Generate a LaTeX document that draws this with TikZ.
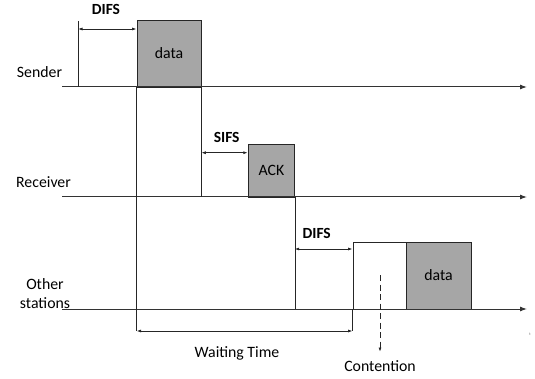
\documentclass[tikz,border=0pt]{standalone}
\usepackage{fontspec}
\setmainfont{Carlito}
\usetikzlibrary{arrows.meta}
\begin{document}
\begin{tikzpicture}[x=1pt,y=-1pt,
  every node/.style={font=\fontsize{15.8}{18}\selectfont},
  lbl/.style={inner sep=0pt},
  boldlbl/.style={inner sep=0pt, font=\fontsize{15.5}{18}\selectfont\bfseries},
  frame/.style={draw=black!85, line width=0.9pt, inner sep=0pt, fill=#1},
  frame/.default=white,
  axis/.style={draw=black!80, line width=1pt, -{Latex[length=7pt,width=5pt]}},
  edge/.style={draw=black!85, line width=0.9pt},
  span/.style={draw=black!85, line width=0.8pt, {Latex[length=4.5pt,width=3pt]}-{Latex[length=4.5pt,width=3pt]}},
  tick/.style={inner sep=0pt, font=\fontsize{4}{5}\selectfont, text=black!60}]
\useasboundingbox (0,0) rectangle (535,379);

% frames on the three time lines
\node[frame=black!35, minimum width=64pt, minimum height=67pt] (data1) at (169,53.5) {data};
\node[frame=black!35, minimum width=46.5pt, minimum height=53pt] (ack) at (271.5,170.5) {ACK};
\node[frame, minimum width=53pt, minimum height=67pt] (cont) at (379.5,275.5) {};
\node[frame=black!35, minimum width=65pt, minimum height=67pt] (data2) at (438.5,275.5) {data};

% time lines
\coordinate (s0) at (62,87);   \coordinate (s1) at (527,87);
\coordinate (r0) at (62,197);  \coordinate (r1) at (527,197);
\coordinate (o0) at (62,309);  \coordinate (o1) at (527,309);
\draw[axis] (s0) -- (s1);
\draw[axis] (r0) -- (r1);
\draw[axis] (o0) -- (o1);

% station labels
\node[lbl] (sender) at (39.5,72) {Sender};
\node[lbl] (receiver) at (43.5,182.5) {Receiver};
\node[lbl, align=center, font=\fontsize{15.8}{18.7}\selectfont] (others) at (45,293.5) {Other\\stations};

% vertical marks
\coordinate (difsA) at (78,21);
\coordinate (difsAb) at (78,87);
\draw[edge] (difsA) -- (difsAb);
\coordinate (waitL) at (data1.south west |- 0,331);
\coordinate (waitR) at (cont.south west |- 0,331);
\draw[edge] (data1.south west) -- (waitL);
\draw[edge] (data1.south east) -- (data1.south east |- r0);
\draw[edge] (ack.south east) -- (ack.south east |- o0);
\draw[edge] (cont.south west) -- (waitR);

% interval arrows
\coordinate (d1a) at (78,29);
\draw[span] (d1a) -- (d1a -| data1.west);
\coordinate (sa) at (201.3,152.7);
\draw[span] (sa) -- (sa -| ack.west);
\coordinate (d2a) at (294.7,249);
\draw[span] (d2a) -- (d2a -| cont.west);
\draw[span] (waitL) -- (waitR);

% interval labels
\node[boldlbl] (difs1) at (106,9) {DIFS};
\node[boldlbl] (sifs) at (226.7,137.7) {SIFS};
\node[boldlbl] (difs2) at (316.7,233.3) {DIFS};
\node[lbl] (wait) at (237,353) {Waiting Time};

% contention window
\coordinate (ctop) at (380,275);
\coordinate (cbot) at (380,352);
\draw[edge, dash pattern=on 6pt off 3.5pt, -{Latex[length=4.5pt,width=3pt]}] (ctop) -- (cbot);
\node[lbl] (contlbl) at (380,366) {Contention};

% time axis mark
\node[tick] (taxis) at (530,334) {t};
\end{tikzpicture}
\end{document}
